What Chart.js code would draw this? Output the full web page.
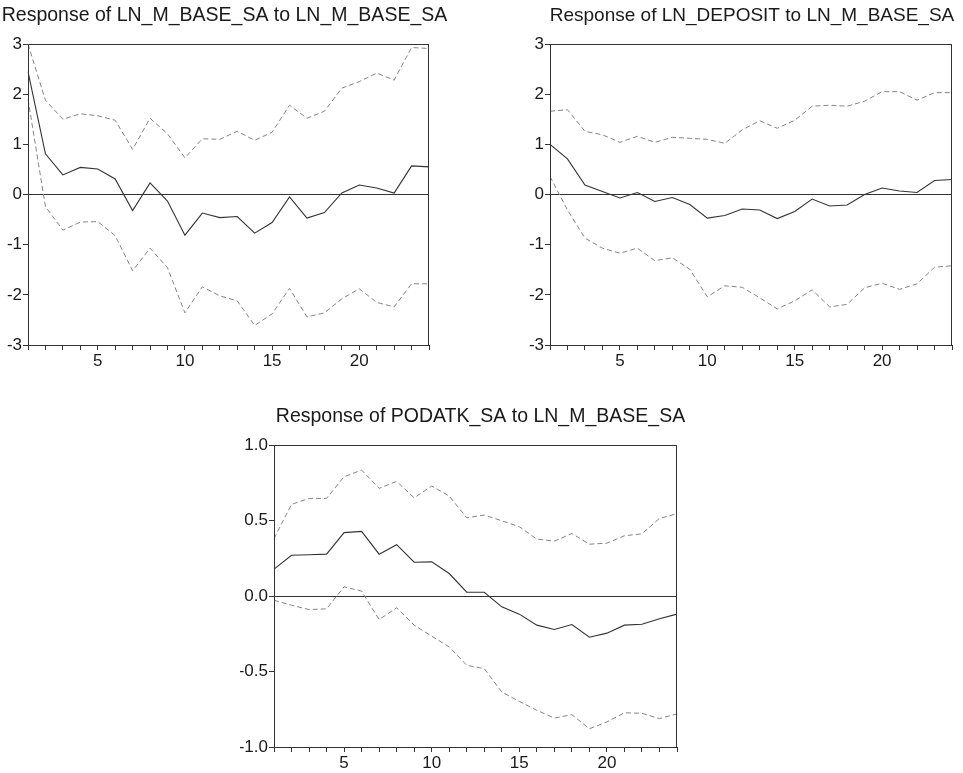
<!DOCTYPE html>
<html>
<head>
<meta charset="utf-8">
<script src="https://cdn.jsdelivr.net/npm/chart.js@4/dist/chart.umd.min.js"></script>
<style>
  html, body { margin: 0; padding: 0; background: #ffffff; }
  body { width: 963px; height: 773px; position: relative; overflow: hidden; }
  canvas { position: absolute; }
</style>
</head>
<body>
<canvas id="c1" width="460" height="375" style="left:0px;top:0px;"></canvas>
<canvas id="c2" width="443" height="375" style="left:520px;top:0px;"></canvas>
<canvas id="c3" width="460" height="373" style="left:240px;top:400px;"></canvas>
<script>
// ---------- DATA ----------
const periods = [1,2,3,4,5,6,7,8,9,10,11,12,13,14,15,16,17,18,19,20,21,22,23,24];

const titles = [
  "Response of LN_M_BASE_SA to LN_M_BASE_SA",
  "Response of LN_DEPOSIT to LN_M_BASE_SA",
  "Response of PODATK_SA to LN_M_BASE_SA"
];

// Panel 1: LN_M_BASE_SA
const baseResp  = [2.45,0.81,0.39,0.54,0.51,0.31,-0.32,0.23,-0.13,-0.81,-0.37,-0.46,-0.44,-0.77,-0.56,-0.05,-0.47,-0.36,0.03,0.19,0.13,0.03,0.57,0.55];
const baseUpper = [3.00,1.88,1.50,1.61,1.57,1.48,0.90,1.52,1.21,0.73,1.11,1.10,1.26,1.08,1.24,1.78,1.52,1.66,2.12,2.25,2.42,2.28,2.93,2.91];
const baseLower = [1.90,-0.24,-0.71,-0.55,-0.54,-0.82,-1.52,-1.07,-1.46,-2.36,-1.84,-2.02,-2.12,-2.61,-2.38,-1.87,-2.44,-2.36,-2.08,-1.88,-2.15,-2.24,-1.78,-1.78];

// Panel 2: LN_DEPOSIT
const depResp  = [1.00,0.71,0.19,0.06,-0.07,0.04,-0.14,-0.06,-0.20,-0.47,-0.42,-0.29,-0.31,-0.48,-0.34,-0.09,-0.23,-0.21,0.00,0.13,0.07,0.04,0.28,0.30];
const depUpper = [1.66,1.69,1.26,1.19,1.04,1.16,1.04,1.14,1.12,1.10,1.02,1.29,1.47,1.32,1.48,1.76,1.78,1.76,1.86,2.05,2.05,1.88,2.03,2.03];
const depLower = [0.36,-0.31,-0.87,-1.07,-1.17,-1.07,-1.32,-1.26,-1.49,-2.04,-1.82,-1.85,-2.06,-2.28,-2.12,-1.90,-2.24,-2.19,-1.86,-1.77,-1.89,-1.78,-1.45,-1.42];

// Panel 3: PODATK_SA
const podResp  = [0.178,0.270,0.273,0.277,0.420,0.428,0.277,0.340,0.224,0.226,0.149,0.025,0.025,-0.072,-0.120,-0.193,-0.222,-0.189,-0.273,-0.246,-0.193,-0.187,-0.151,-0.120];
const podUpper = [0.380,0.607,0.646,0.646,0.790,0.834,0.713,0.759,0.650,0.728,0.662,0.518,0.536,0.498,0.459,0.377,0.363,0.414,0.343,0.350,0.399,0.412,0.514,0.545];
const podLower = [-0.028,-0.061,-0.090,-0.085,0.061,0.032,-0.156,-0.078,-0.193,-0.266,-0.337,-0.459,-0.481,-0.636,-0.698,-0.757,-0.808,-0.786,-0.879,-0.834,-0.773,-0.777,-0.812,-0.781];

// y-axis settings per panel
const yMin  = [-3, -3, -1];
const yMax  = [3, 3, 1];
const yStep = [1, 1, 0.5];
const yDecimals = [0, 0, 1];
// ---------- END DATA ----------

const FONT = "'Liberation Sans', Arial, Helvetica, sans-serif";
const AXIS = '#333333';
const SOLID = '#333333';
const DASH = '#858585';

const framePlugin = {
  id: 'frame',
  afterDatasetsDraw(chart) {
    const a = chart.chartArea, ctx = chart.ctx;
    ctx.save();
    ctx.strokeStyle = AXIS;
    ctx.lineWidth = 1;
    ctx.strokeRect(Math.round(a.left) + 0.5, Math.round(a.top) + 0.5,
                   Math.round(a.right - a.left) - 1, Math.round(a.bottom - a.top));
    ctx.restore();
  }
};

const titlePlugin = {
  id: 'ptitle',
  afterDraw(chart, args, opts) {
    const a = chart.chartArea, ctx = chart.ctx;
    ctx.save();
    ctx.fillStyle = '#1a1a1a';
    ctx.font = opts.size + 'px ' + FONT;
    ctx.textAlign = 'center';
    ctx.textBaseline = 'alphabetic';
    ctx.fillText(opts.text, (a.left + a.right) / 2 + (opts.dx || 0), opts.y);
    ctx.restore();
  }
};

function makeChart(id, idx, resp, upper, lower, geom) {
  const dec = yDecimals[idx];
  return new Chart(document.getElementById(id), {
    type: 'line',
    data: {
      labels: periods,
      datasets: [
        { data: upper, borderColor: DASH, borderWidth: 1, borderDash: [5, 3], pointRadius: 0, tension: 0, fill: false },
        { data: lower, borderColor: DASH, borderWidth: 1, borderDash: [5, 3], pointRadius: 0, tension: 0, fill: false },
        { data: resp,  borderColor: SOLID, borderWidth: 1.1, pointRadius: 0, tension: 0, fill: false }
      ]
    },
    options: {
      responsive: false,
      animation: false,
      devicePixelRatio: 1,
      layout: { padding: { left: 0, top: geom.top, right: geom.right, bottom: 0 } },
      plugins: {
        legend: { display: false },
        tooltip: { enabled: false },
        title: { display: false },
        ptitle: { text: titles[idx], size: geom.titleSize, y: geom.titleY, dx: geom.titleDx || 0 }
      },
      scales: {
        x: {
          type: 'category',
          offset: false,
          afterFit(s) { s.height = geom.xh; },
          border: { display: true, color: AXIS, width: 1 },
          grid: { display: true, drawOnChartArea: false, drawTicks: true, tickLength: 5, tickColor: AXIS, offset: false },
          ticks: {
            autoSkip: false, maxRotation: 0, minRotation: 0, padding: 1,
            color: '#1a1a1a', font: { family: FONT, size: 17 },
            callback(v, i) { return periods[i] % 5 === 0 ? String(periods[i]) : ''; }
          }
        },
        y: {
          min: yMin[idx], max: yMax[idx],
          afterFit(s) { s.width = geom.yw; },
          border: { display: true, color: AXIS, width: 1 },
          grid: {
            display: true, drawOnChartArea: true, drawTicks: true, tickLength: 5,
            tickColor: AXIS,
            color(ctx) { return ctx.tick && ctx.tick.value === 0 ? AXIS : 'rgba(0,0,0,0)'; }
          },
          ticks: {
            stepSize: yStep[idx], padding: 1,
            color: '#1a1a1a', font: { family: FONT, size: 17 },
            callback(v) { return Number(v).toFixed(dec); }
          }
        }
      }
    },
    plugins: [framePlugin, titlePlugin]
  });
}

makeChart('c1', 0, baseResp, baseUpper, baseLower, { top: 44, right: 31, xh: 30, yw: 28, titleY: 21, titleDx: -4, titleSize: 19.5 });
makeChart('c2', 1, depResp, depUpper, depLower, { top: 44, right: 11, xh: 30, yw: 30, titleY: 21, titleDx: 1, titleSize: 19 });
makeChart('c3', 2, podResp, podUpper, podLower, { top: 45, right: 23, xh: 26, yw: 34, titleY: 22, titleDx: 5, titleSize: 19.5 });
</script>
</body>
</html>
